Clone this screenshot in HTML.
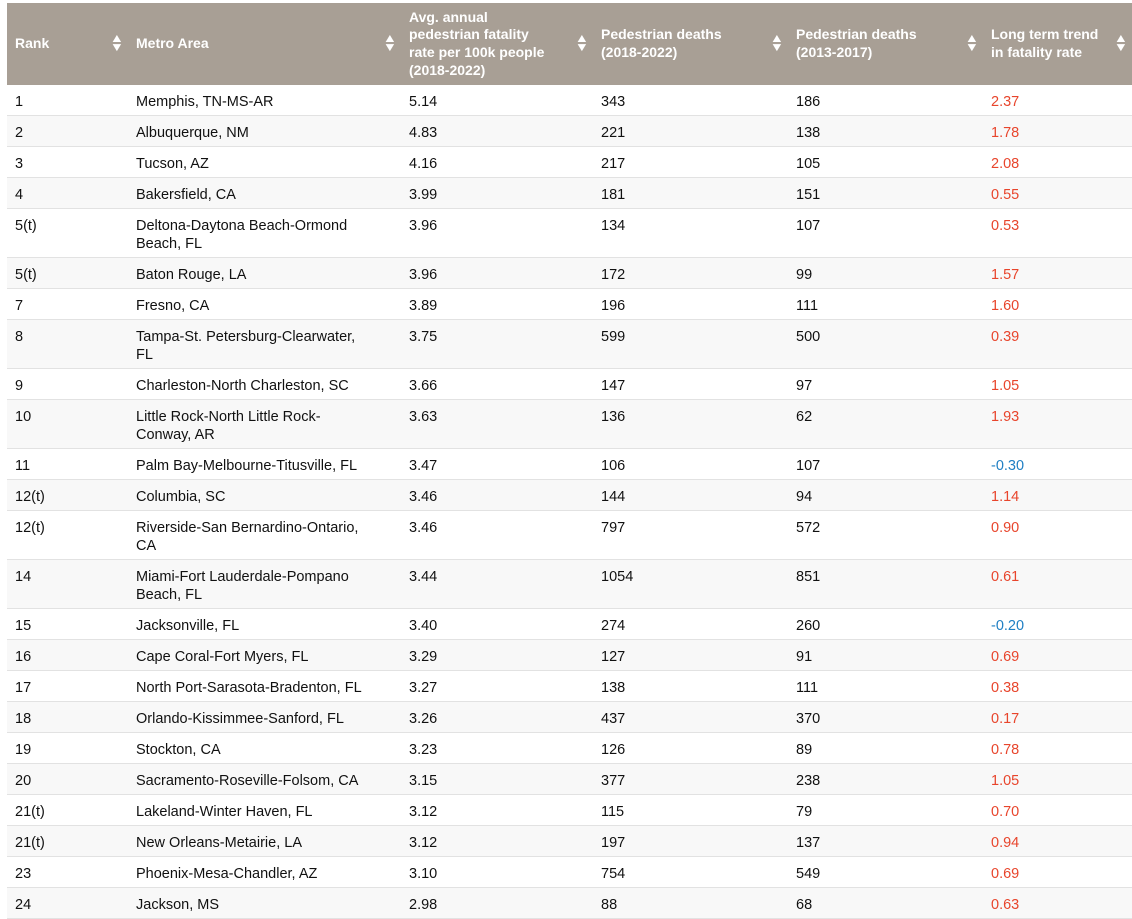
<!DOCTYPE html>
<html><head><meta charset="utf-8"><style>
body{margin:0;background:#fff;width:1132px;height:907px;overflow:hidden;font-family:"Liberation Sans",sans-serif;}
table{position:absolute;left:7px;top:3px;border-collapse:collapse;table-layout:fixed;width:1125px;}
th{background:#a89f95;color:#fff;font-weight:bold;font-size:14px;line-height:17.7px;text-align:left;padding:0 8px;height:82px;position:relative;vertical-align:middle}
th span.s{position:absolute;right:5px;top:50%;margin-top:-10px;font-size:12px;line-height:9px;color:#fff;transform:scaleX(1.2)}
td{font-size:14.5px;line-height:18px;color:#111;padding:8px 8px 0 8px;vertical-align:top;border-bottom:1.5px solid #e2e2e2;white-space:nowrap;height:22px}
tr.d td{height:40px}
tr:nth-child(even) td{background:#f8f8f8}
.r{color:#e8452c}.b{color:#1f7fc4}
</style></head><body>
<table>
<colgroup><col style="width:121px"><col style="width:273px"><col style="width:192px"><col style="width:195px"><col style="width:195px"><col style="width:149px"></colgroup>
<thead><tr>
<th>Rank<span class="s">▲<br>▼</span></th>
<th>Metro Area<span class="s">▲<br>▼</span></th>
<th>Avg. annual<br>pedestrian fatality<br>rate per 100k people<br>(2018-2022)<span class="s">▲<br>▼</span></th>
<th>Pedestrian deaths<br>(2018-2022)<span class="s">▲<br>▼</span></th>
<th>Pedestrian deaths<br>(2013-2017)<span class="s">▲<br>▼</span></th>
<th>Long term trend<br>in fatality rate<span class="s">▲<br>▼</span></th>
</tr></thead>
<tbody>
<tr><td>1</td><td>Memphis, TN-MS-AR</td><td>5.14</td><td>343</td><td>186</td><td class="r">2.37</td></tr>
<tr><td>2</td><td>Albuquerque, NM</td><td>4.83</td><td>221</td><td>138</td><td class="r">1.78</td></tr>
<tr><td>3</td><td>Tucson, AZ</td><td>4.16</td><td>217</td><td>105</td><td class="r">2.08</td></tr>
<tr><td>4</td><td>Bakersfield, CA</td><td>3.99</td><td>181</td><td>151</td><td class="r">0.55</td></tr>
<tr class="d"><td>5(t)</td><td>Deltona-Daytona Beach-Ormond<br>Beach, FL</td><td>3.96</td><td>134</td><td>107</td><td class="r">0.53</td></tr>
<tr><td>5(t)</td><td>Baton Rouge, LA</td><td>3.96</td><td>172</td><td>99</td><td class="r">1.57</td></tr>
<tr><td>7</td><td>Fresno, CA</td><td>3.89</td><td>196</td><td>111</td><td class="r">1.60</td></tr>
<tr class="d"><td>8</td><td>Tampa-St. Petersburg-Clearwater,<br>FL</td><td>3.75</td><td>599</td><td>500</td><td class="r">0.39</td></tr>
<tr><td>9</td><td>Charleston-North Charleston, SC</td><td>3.66</td><td>147</td><td>97</td><td class="r">1.05</td></tr>
<tr class="d"><td>10</td><td>Little Rock-North Little Rock-<br>Conway, AR</td><td>3.63</td><td>136</td><td>62</td><td class="r">1.93</td></tr>
<tr><td>11</td><td>Palm Bay-Melbourne-Titusville, FL</td><td>3.47</td><td>106</td><td>107</td><td class="b">-0.30</td></tr>
<tr><td>12(t)</td><td>Columbia, SC</td><td>3.46</td><td>144</td><td>94</td><td class="r">1.14</td></tr>
<tr class="d"><td>12(t)</td><td>Riverside-San Bernardino-Ontario,<br>CA</td><td>3.46</td><td>797</td><td>572</td><td class="r">0.90</td></tr>
<tr class="d"><td>14</td><td>Miami-Fort Lauderdale-Pompano<br>Beach, FL</td><td>3.44</td><td>1054</td><td>851</td><td class="r">0.61</td></tr>
<tr><td>15</td><td>Jacksonville, FL</td><td>3.40</td><td>274</td><td>260</td><td class="b">-0.20</td></tr>
<tr><td>16</td><td>Cape Coral-Fort Myers, FL</td><td>3.29</td><td>127</td><td>91</td><td class="r">0.69</td></tr>
<tr><td>17</td><td>North Port-Sarasota-Bradenton, FL</td><td>3.27</td><td>138</td><td>111</td><td class="r">0.38</td></tr>
<tr><td>18</td><td>Orlando-Kissimmee-Sanford, FL</td><td>3.26</td><td>437</td><td>370</td><td class="r">0.17</td></tr>
<tr><td>19</td><td>Stockton, CA</td><td>3.23</td><td>126</td><td>89</td><td class="r">0.78</td></tr>
<tr><td>20</td><td>Sacramento-Roseville-Folsom, CA</td><td>3.15</td><td>377</td><td>238</td><td class="r">1.05</td></tr>
<tr><td>21(t)</td><td>Lakeland-Winter Haven, FL</td><td>3.12</td><td>115</td><td>79</td><td class="r">0.70</td></tr>
<tr><td>21(t)</td><td>New Orleans-Metairie, LA</td><td>3.12</td><td>197</td><td>137</td><td class="r">0.94</td></tr>
<tr><td>23</td><td>Phoenix-Mesa-Chandler, AZ</td><td>3.10</td><td>754</td><td>549</td><td class="r">0.69</td></tr>
<tr><td>24</td><td>Jackson, MS</td><td>2.98</td><td>88</td><td>68</td><td class="r">0.63</td></tr>
</tbody></table>
</body></html>
